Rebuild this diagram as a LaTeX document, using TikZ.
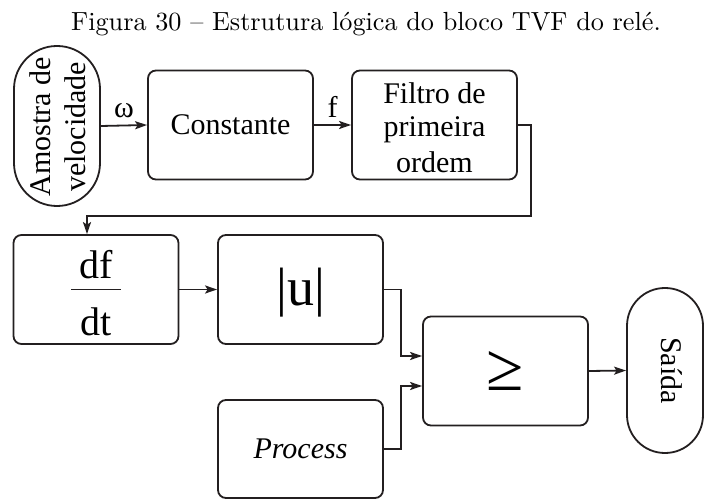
\documentclass[tikz,border=0pt]{standalone}
\usepackage{fontspec}
\newfontfamily\tnr{Liberation Serif}
\usetikzlibrary{arrows.meta,calc}
\definecolor{ink}{HTML}{231F20}
\begin{document}
\begin{tikzpicture}[x=1pt,y=-1pt,
  blk/.style={draw=ink, line width=1.8pt, rounded corners=8pt,
    minimum width=165pt, minimum height=109pt, inner sep=0pt, align=center,
    font=\tnr\fontsize{30}{33}\selectfont},
  pill/.style={draw=ink, line width=1.8pt, inner sep=0pt, align=center,
    font=\tnr\fontsize{30}{35}\selectfont},
  arr/.style={draw=ink, line width=1.8pt,
    -{Stealth[length=12pt,width=8pt,inset=2.5pt]}},
  wire/.style={draw=ink, line width=1.8pt},
  lbl/.style={inner sep=0pt, font=\tnr\fontsize{30}{33}\selectfont}]
\useasboundingbox (0,0) rectangle (704,502);

% caption, set in the 10pt design size and enlarged
\node[anchor=base, inner sep=0pt, scale=2.62] (title) at (366,31)
  {\fontsize{10}{12}\selectfont Figura 30 -- Estrutura lógica do bloco TVF do relé.};

% first row
\node[pill, rounded corners=42.9pt, minimum width=86pt, minimum height=160pt] (amostra) at (57,126) {};
\node[lbl, rotate=90, align=center, font=\tnr\fontsize{30}{35}\selectfont] (amostratxt) at (58,127) {Amostra de\\velocidade};
\node[blk] (const) at (230.5,125) {Constante};
\node[blk] (filtro) at (434.5,125) {};
\node[lbl, align=center] (filtrotxt) at (434.5,128) {Filtro de\\primeira\\[3pt]ordem};

% second and third rows
\node[blk] (dfdt) at (96,289.5) {};
\node[lbl, font=\tnr\fontsize{40}{40}\selectfont] (df) at (96,264.5) {df};
\node[lbl, font=\tnr\fontsize{40}{40}\selectfont] (dt) at (96,321.5) {dt};
\draw[wire] ([xshift=-25pt]dfdt.center) -- ([xshift=25pt]dfdt.center);
\node[blk] (absu) at (300.5,289.5) {};
\node[lbl, font=\tnr\fontsize{54}{54}\selectfont] (absutxt) at (301,292.5) {|u|};
\node[blk] (cmp) at (505.5,371) {};
\node[lbl, font=\tnr\fontsize{68}{68}\selectfont] (cmptxt) at (505.5,371) {≥};
\node[pill, rounded corners=37.9pt, minimum width=76pt, minimum height=165pt] (saida) at (665,370.5) {};
\node[lbl, rotate=-90] (saidatxt) at (672,370.5) {Saída};
\node[blk, minimum height=98pt] (proc) at (300.5,449) {\itshape Process};

% connectors
\draw[arr] (amostra.east) -- node[lbl, above=7pt] (w) {ω} (const.west);
\draw[arr] (const.east) -- node[lbl, above=7pt] (f) {f} (filtro.west);
\coordinate (turn) at (531,216);
\draw[arr] (filtro.east) -| (turn) -| ([xshift=-9pt]dfdt.north);
\draw[arr] (dfdt.east) -- (absu.west);
\draw[arr] (absu.east) -- ++(17,0) |- ([yshift=15pt]cmp.west);
\draw[arr] (proc.east) -- ++(17,0) |- ([yshift=-15pt]cmp.west);
\draw[arr] (cmp.east) -- (saida.west);
\end{tikzpicture}
\end{document}
